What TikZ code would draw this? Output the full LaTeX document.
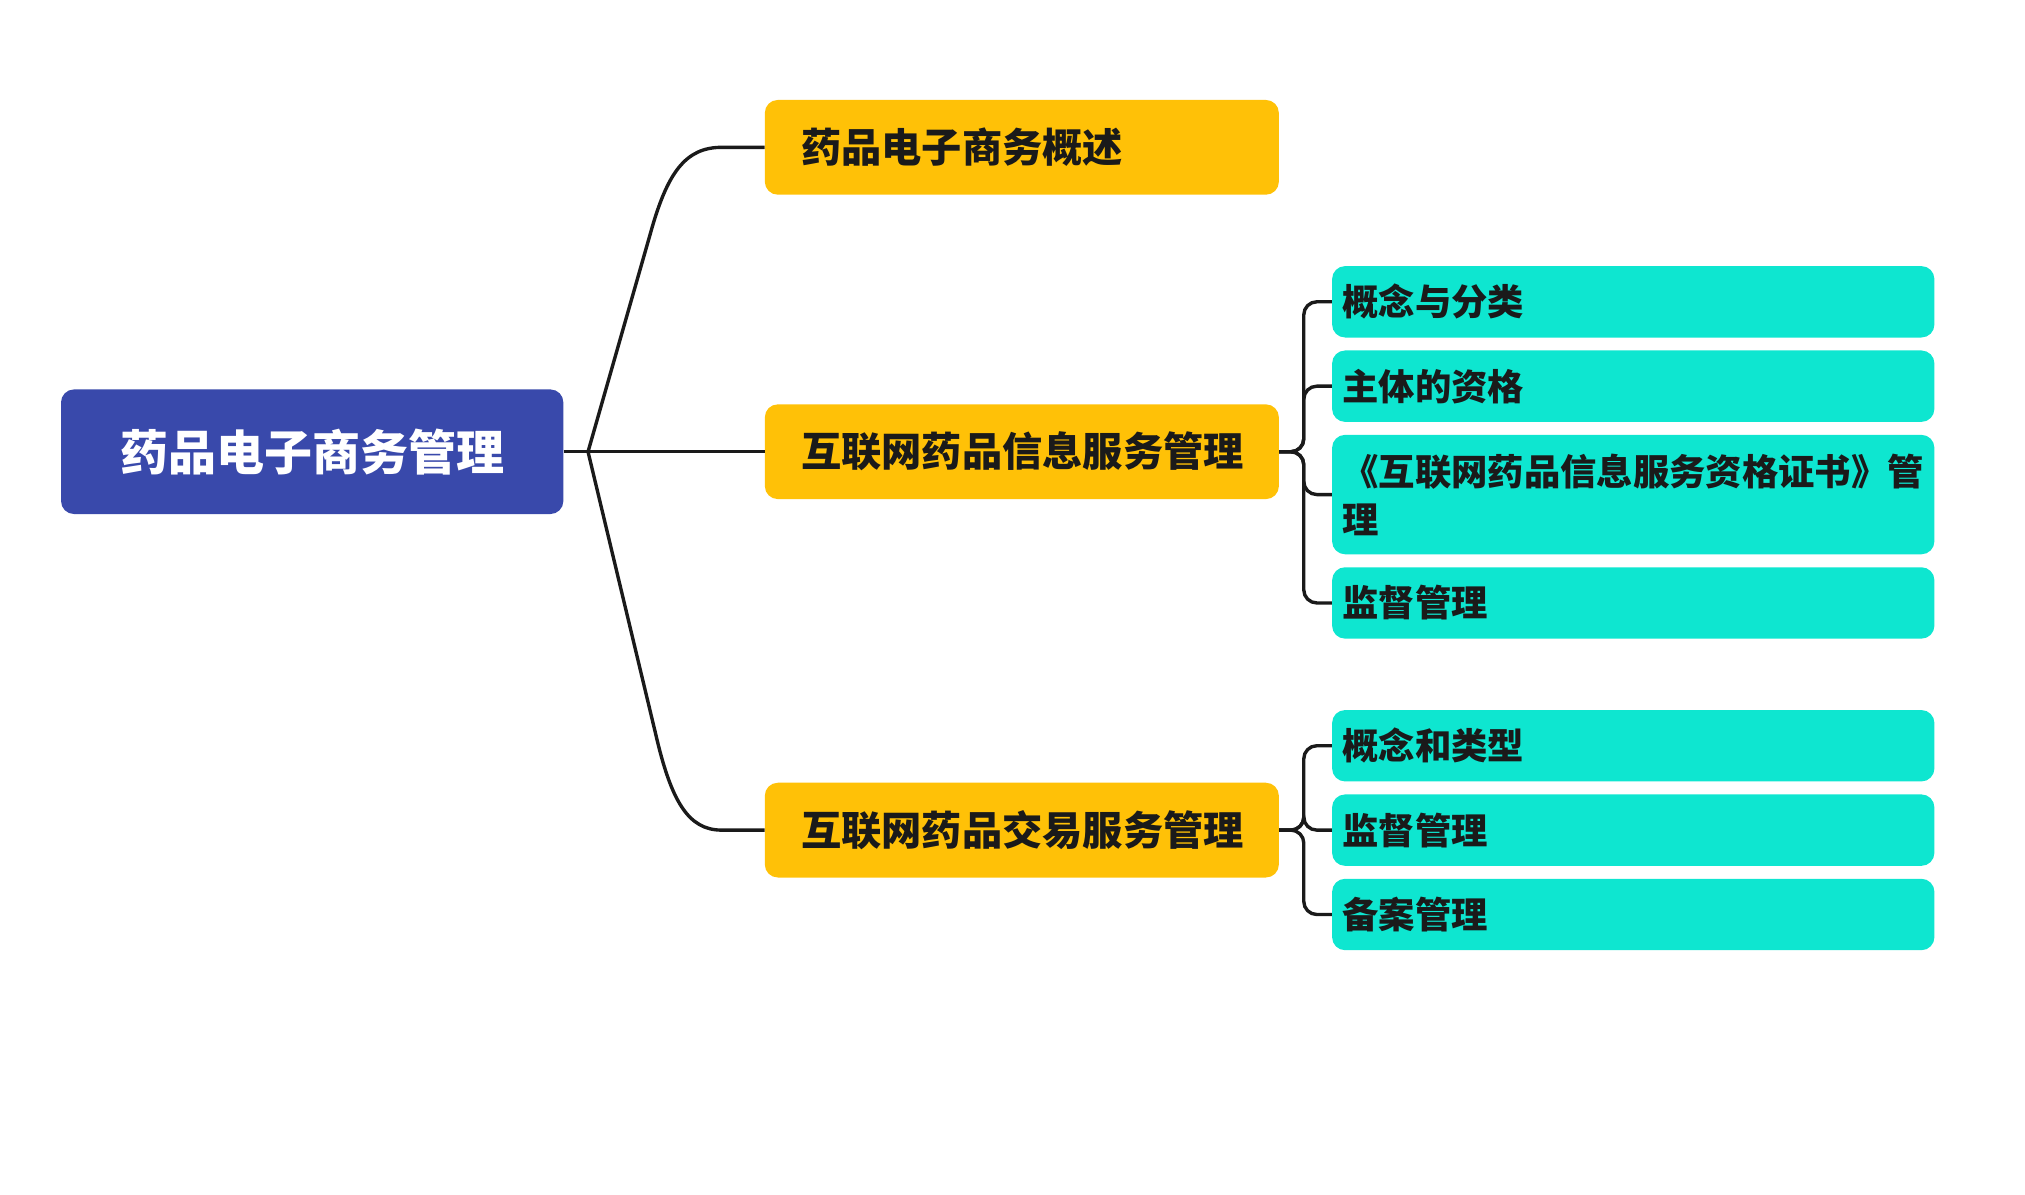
\documentclass[tikz,border=0pt]{standalone}
\usepackage{fontspec}
\setmainfont{Noto Sans CJK SC}
\usepackage{xcolor}
\definecolor{rootblue}{HTML}{3949AB}
\definecolor{topicyellow}{HTML}{FFC107}
\definecolor{leafteal}{HTML}{0EE6D0}
\definecolor{textdark}{HTML}{1A1A1A}

\begin{document}
\begin{tikzpicture}[x=1pt, y=-1pt,
  rootbox/.style={rounded corners=10pt, fill=rootblue, text=white,
    font=\fontsize{37}{44}\selectfont\bfseries,
    minimum width=387pt, minimum height=96pt},
  topicbox/.style={anchor=west, rounded corners=10pt, fill=topicyellow, text=textdark,
    font=\fontsize{31}{37}\selectfont\bfseries,
    text width=340pt, inner xsep=28pt, align=left, minimum height=73pt},
  leafbox/.style={anchor=west, rounded corners=10pt, fill=leafteal, text=textdark,
    font=\fontsize{28}{37}\selectfont\bfseries,
    text width=448pt, inner xsep=8pt, align=left, minimum height=55pt},
  link/.style={draw=textdark, line width=2.6pt},
  fork/.style={link, rounded corners=10pt}]
  \useasboundingbox (0, 0) rectangle (1560, 920);

  % Root
  \node[rootbox] (root) at (240.5, 348) {药品电子商务管理};
  \coordinate (rj) at (453, 348);

  % Topics
  \node[topicbox] (overview) at (589, 113.5) {药品电子商务概述};
  \node[topicbox] (info) at (589, 348) {互联网药品信息服务管理};
  \node[topicbox] (trade) at (589, 639.5) {互联网药品交易服务管理};

  % Leaves of info
  \node[leafbox] (infoA) at (1026, 232.5) {概念与分类};
  \node[leafbox] (infoB) at (1026, 297.5) {主体的资格};
  \node[leafbox, minimum height=92pt] (infoC) at (1026, 381)
    {《互联网药品信息服务资格证书》管\\理};
  \node[leafbox] (infoD) at (1026, 464.5) {监督管理};
  % Leaves of trade
  \node[leafbox] (tradeA) at (1026, 574.5) {概念和类型};
  \node[leafbox] (tradeB) at (1026, 639.5) {监督管理};
  \node[leafbox] (tradeC) at (1026, 704.5) {备案管理};

  % Root to topics
  \draw[link] (root.east) -- (rj);
  \draw[link] (rj) -- (501, 180) .. controls (514, 133) and (528, 113.5) .. (556, 113.5)
    -- (overview.west);
  \draw[link] (rj) -- (info.west);
  \draw[link] (rj) -- (505, 565) .. controls (517, 617) and (530, 639.5) .. (556, 639.5)
    -- (trade.west);

  % Topics to leaves
  \foreach \leaf in {infoA, infoB, infoC, infoD}
    \draw[fork] (info.east) -- ++(19, 0) |- (\leaf.west);
  \foreach \leaf in {tradeA, tradeB, tradeC}
    \draw[fork] (trade.east) -- ++(19, 0) |- (\leaf.west);
\end{tikzpicture}
\end{document}
